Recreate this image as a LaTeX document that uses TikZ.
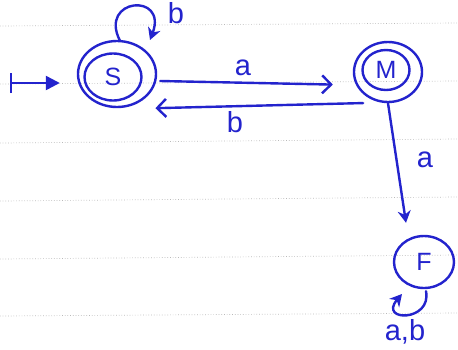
\documentclass[tikz,border=0pt]{standalone}
\usepackage{fontspec}
\setmainfont{Liberation Sans}
\usetikzlibrary{arrows.meta,shapes.geometric,calc}
\definecolor{ink}{RGB}{35,35,205}
\definecolor{rule}{RGB}{185,185,185}
\tikzset{
  x=1pt,y=-1pt,
  state/.style={ellipse,draw=ink,line width=2.4pt,inner sep=0pt,text=ink,font=\fontsize{25}{25}\selectfont},
  ring/.style={ellipse,draw=ink,line width=2.4pt,inner sep=0pt},
  edge/.style={draw=ink,line width=2.4pt,line cap=round},
  lbl/.style={text=ink,font=\fontsize{29}{29}\selectfont,inner sep=0pt},
  paper/.style={draw=rule,line width=0.7pt,dotted},
  opentip/.style={-{Straight Barb[length=9pt,width=18pt,line width=2.4pt]}},
  filltip/.style={-{Stealth[length=12pt,width=13pt]}},
}
\begin{document}
\begin{tikzpicture}
\useasboundingbox[fill=white] (0,0) rectangle (458,349);
% ruled paper
\foreach \yl/\yr in {26/23, 84/81, 143/139, 201/197, 259/255, 316/313}
  \draw[paper] (0,\yl) -- (458,\yr);
% states
\node[state,minimum width=57pt,minimum height=47pt] (S) at (113,77) {S};
\node[ring,minimum width=78pt,minimum height=66pt] (So) at (117,74) {};
\node[state,minimum width=47pt,minimum height=40pt] (M) at (386,70) {M};
\node[ring,minimum width=68pt,minimum height=60pt] (Mo) at (388,72) {};
\node[state,minimum width=60pt,minimum height=52pt] (F) at (424,262) {F};
% start arrow
\coordinate (init) at (10,83);
\draw[edge,{Bar[width=20pt,line width=2.4pt]}-{Triangle[length=14pt,width=14pt]},shorten >=17pt] (init) -- (So.west |- init);
% S -> M (a)
\draw[edge,opentip,shorten >=20pt] ($(So.east)+(3,7)$) -- ($(Mo.west)+(0,13)$);
\node[lbl] (la) at (243,68) {a};
% M -> S (b)
\draw[edge,opentip] ($(Mo.south west)+(0,9)$) -- ($(So.south east)+(10,10)$);
\node[lbl] (lb) at (235,122) {b};
% S self loop (b)
\draw[edge,filltip] ($(So.north)+(3,1)$) .. controls (98,-2) and (168,-8) .. (150,40);
\node[lbl] (lbs) at (176,13) {b};
% M -> F (a)
\draw[edge,filltip] (Mo.south) -- ($(F.north)+(-18,-12)$);
\node[lbl] (lma) at (425,160) {a};
% F self loop (a,b)
\draw[edge,filltip] ($(F.south)+(2,2)$) .. controls (432,322) and (378,322) .. (402,294);
\node[lbl] (lab) at (405,332) {a,b};
\end{tikzpicture}
\end{document}
